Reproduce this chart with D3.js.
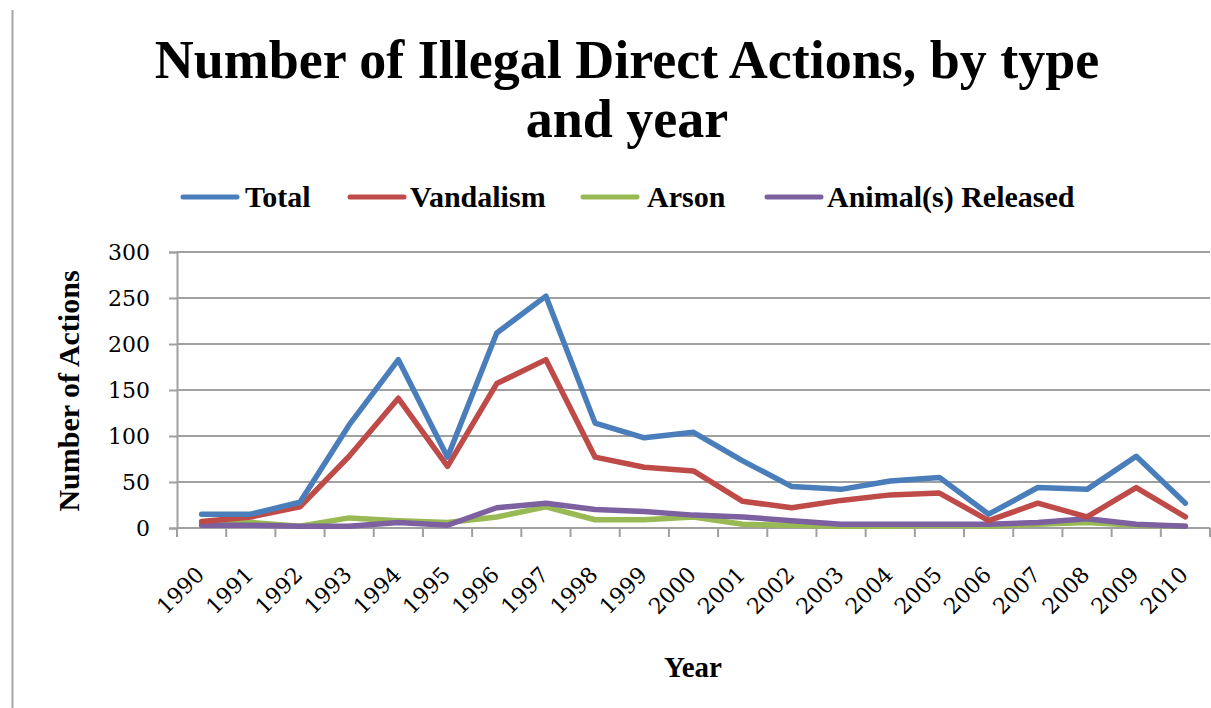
<!DOCTYPE html>
<html>
<head>
<meta charset="utf-8">
<script src="https://cdn.jsdelivr.net/npm/d3@7"></script>
<style>
  body { margin: 0; background: #fff; }
  text { font-family: "Liberation Serif", "DejaVu Serif", serif; fill: #000; }
  .num { font-family: "DejaVu Serif", serif; }
</style>
</head>
<body>
<script>
// Data
const years = d3.range(1990, 2011).map(String);
const total     = [15, 15, 28, 112, 183, 77, 212, 252, 114, 98, 104, 73, 45, 42, 51, 55, 15, 44, 42, 78, 27];
const vandalism = [7, 12, 23, 78, 141, 67, 157, 183, 77, 66, 62, 29, 22, 30, 36, 38, 8, 27, 12, 44, 12];
const arson     = [5, 6, 2, 11, 8, 6, 12, 23, 9, 9, 12, 4, 3, 2, 2, 3, 2, 4, 6, 3, 2];
const animals   = [3, 3, 2, 2, 6, 3, 22, 27, 20, 18, 14, 12, 8, 4, 4, 4, 4, 6, 10, 4, 2];
const yTicks = [0, 50, 100, 150, 200, 250, 300];

const seriesNames = ["Total", "Vandalism", "Arson", "Animal(s) Released"];
const seriesValues = [total, vandalism, arson, animals];
const colors = ["#4a7ebb", "#be4b48", "#98b954", "#7d60a0"];

const width = 1211, height = 708;
const plot = { left: 177, right: 1210, top: 252, bottom: 528 };

const svg = d3.select("body")
  .append("svg")
  .attr("width", width)
  .attr("height", height);

// page border line on the left
svg.append("line")
  .attr("x1", 12.5).attr("x2", 12.5)
  .attr("y1", 10).attr("y2", height)
  .attr("stroke", "#a6a6a6")
  .attr("stroke-width", 2);

const x = d3.scaleBand()
  .domain(years)
  .range([plot.left, plot.right]);

const y = d3.scaleLinear()
  .domain([0, 300])
  .range([plot.bottom, plot.top]);

// Title
svg.append("text")
  .attr("x", 627).attr("y", 78)
  .attr("text-anchor", "middle")
  .style("font-size", "54px")
  .style("font-weight", "bold")
  .text("Number of Illegal Direct Actions, by type");
svg.append("text")
  .attr("x", 627).attr("y", 137)
  .attr("text-anchor", "middle")
  .style("font-size", "54px")
  .style("font-weight", "bold")
  .text("and year");

// Legend
const legendX = [183, 350, 583, 767];
const legendTextX = [245, 410, 647, 827];
const legend = svg.append("g");
seriesNames.forEach(function(name, i) {
  legend.append("line")
    .attr("x1", legendX[i]).attr("x2", legendX[i] + 54)
    .attr("y1", 197).attr("y2", 197)
    .attr("stroke", colors[i])
    .attr("stroke-width", 5)
    .attr("stroke-linecap", "round");
  legend.append("text")
    .attr("x", legendTextX[i]).attr("y", 207)
    .style("font-size", "30px")
    .style("font-weight", "bold")
    .text(name);
});

// Gridlines
svg.append("g")
  .selectAll("line")
  .data(yTicks.slice(1))
  .join("line")
  .attr("x1", plot.left).attr("x2", plot.right)
  .attr("y1", d => y(d)).attr("y2", d => y(d))
  .attr("stroke", "#a0a0a0")
  .attr("stroke-width", 2);

// Y axis
const yAxis = svg.append("g")
  .attr("transform", `translate(${plot.left},0)`)
  .call(d3.axisLeft(y).tickValues(yTicks).tickSize(8).tickPadding(19));
yAxis.select(".domain").attr("stroke", "#a0a0a0").attr("stroke-width", 2);
yAxis.selectAll(".tick line").attr("stroke", "#a0a0a0").attr("stroke-width", 2);
yAxis.selectAll(".tick text")
  .attr("class", "num")
  .style("font-size", "22px")
  .style("font-family", null);

// X axis: ticks at category boundaries
const xAxis = svg.append("g")
  .attr("transform", `translate(0,${plot.bottom})`);
xAxis.append("line")
  .attr("x1", plot.left).attr("x2", plot.right)
  .attr("stroke", "#a0a0a0").attr("stroke-width", 2);
xAxis.selectAll(".tk")
  .data(years.concat(["end"]))
  .join("line")
  .attr("class", "tk")
  .attr("x1", (d, i) => plot.left + i * x.step())
  .attr("x2", (d, i) => plot.left + i * x.step())
  .attr("y1", 0).attr("y2", 9)
  .attr("stroke", "#a0a0a0").attr("stroke-width", 2);
xAxis.selectAll(".lbl")
  .data(years)
  .join("text")
  .attr("class", "lbl num")
  .attr("text-anchor", "end")
  .attr("transform", d => `translate(${x(d) + x.bandwidth() / 2 + 4},${48}) rotate(-45)`)
  .style("font-size", "22px")
  .text(d => d);

// Axis titles
svg.append("text")
  .attr("transform", "translate(79,391) rotate(-90)")
  .attr("text-anchor", "middle")
  .style("font-size", "30px")
  .style("font-weight", "bold")
  .text("Number of Actions");
svg.append("text")
  .attr("x", 693).attr("y", 677)
  .attr("text-anchor", "middle")
  .style("font-size", "29px")
  .style("font-weight", "bold")
  .text("Year");

// Lines
const line = d3.line()
  .x((d, i) => x(years[i]) + x.bandwidth() / 2)
  .y(d => y(d));

// draw back to front so Total sits on top
[2, 3, 1, 0].forEach(function(i) {
  svg.append("path")
    .datum(seriesValues[i])
    .attr("d", line)
    .attr("fill", "none")
    .attr("stroke", colors[i])
    .attr("stroke-width", 5.5)
    .attr("stroke-linejoin", "round")
    .attr("stroke-linecap", "round");
});
</script>
</body>
</html>
